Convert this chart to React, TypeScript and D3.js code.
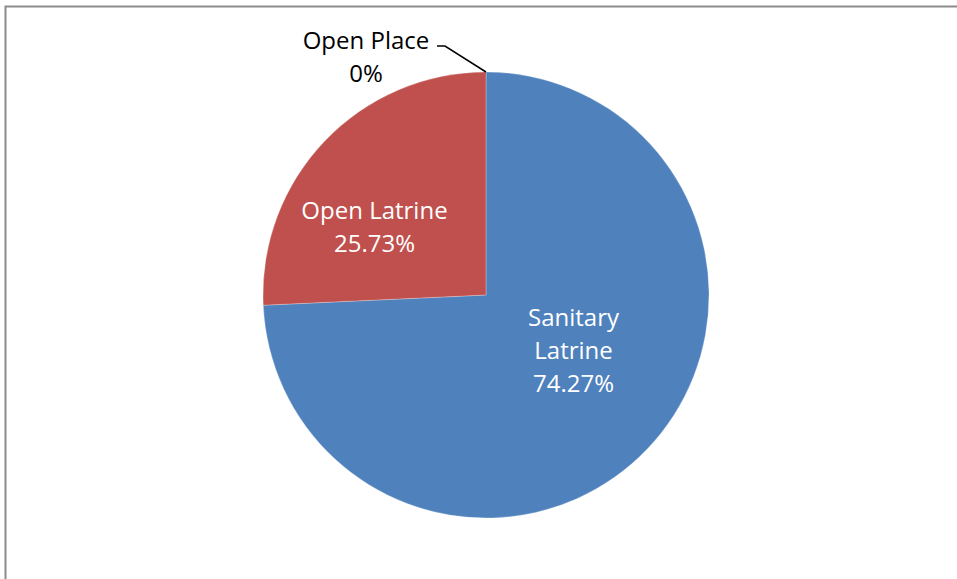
import React from "react";
import * as d3 from "d3";

// data
const categories = ["Sanitary Latrine", "Open Latrine", "Open Place"];
const values = [74.27, 25.73, 0];
const labelText = ["74.27%", "25.73%", "0%"];
const labelLines = [["Sanitary", "Latrine"], ["Open Latrine"], ["Open Place"]];
const colors = ["#4F81BD", "#C0504D", "#9BBB59"];

const width = 957;
const height = 579;
const cx = 486;
const cy = 295;
const radius = 223;
const lineH = 33;

export default function App() {
  const pie = d3
    .pie<number>()
    .sort(null)
    .startAngle(0)
    .endAngle(2 * Math.PI)
    .value((d) => d);
  const arcs = pie(values);
  const arc = d3.arc<d3.PieArcDatum<number>>().innerRadius(0).outerRadius(radius);

  // label placement (rough "best fit" like the spreadsheet did it)
  const labelAnchor = (i: number, a: d3.PieArcDatum<number>) => {
    const mid = (a.startAngle + a.endAngle) / 2;
    if (a.value === 0) {
      // outside label with a leader line
      return { x: -120, y: -238 };
    }
    const d = radius * 0.58;
    const p = [Math.sin(mid) * d, -Math.cos(mid) * d];
    if (i === 0) return { x: p[0] - 6, y: p[1] - 33 };
    return { x: p[0] - 18, y: p[1] + 22 };
  };

  const font = "'Open Sans', sans-serif";

  return (
    <svg
      width={width}
      height={height}
      style={{ position: "absolute", left: 0, top: 0, background: "#fff" }}
    >
      <rect x={5.5} y={6.5} width={width + 10} height={height + 10} fill="#fff" stroke="#8c8c8c" strokeWidth={2} />
      <g transform={`translate(${cx},${cy})`}>
        {arcs.map((a, i) =>
          a.value > 0 ? (
            <path key={categories[i]} d={arc(a) || ""} fill={colors[i]} stroke="#fff" strokeOpacity={0.25} strokeWidth={1} />
          ) : null
        )}
        {arcs.map((a, i) => {
          const pos = labelAnchor(i, a);
          const lines = [...labelLines[i], labelText[i]];
          const inside = a.value > 0;
          const top = pos.y - ((lines.length - 1) * lineH) / 2;
          return (
            <g key={"lab" + i}>
              {!inside && (
                <path
                  d={`M${pos.x + 71},${pos.y - 11}H${pos.x + 79}L${Math.sin(a.startAngle) * radius},${-Math.cos(a.startAngle) * radius}`}
                  fill="none"
                  stroke="#000"
                  strokeWidth={1.5}
                />
              )}
              <text
                textAnchor="middle"
                fontFamily={font}
                fontSize={24}
                fill={inside ? "#fff" : "#000"}
              >
                {lines.map((t, j) => (
                  <tspan key={j} x={pos.x} y={top + j * lineH + 8}>
                    {t}
                  </tspan>
                ))}
              </text>
            </g>
          );
        })}
      </g>
    </svg>
  );
}
